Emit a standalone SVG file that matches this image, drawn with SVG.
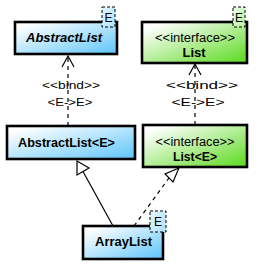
<svg xmlns="http://www.w3.org/2000/svg" width="256" height="264" viewBox="0 0 256 264">
<defs>
<linearGradient id="gb" x1="0" y1="0" x2="1" y2="1">
<stop offset="0.1" stop-color="#ffffff"/>
<stop offset="1" stop-color="#5cc4fb"/>
</linearGradient>
<linearGradient id="gg" x1="0" y1="0" x2="1" y2="1">
<stop offset="0.1" stop-color="#ffffff"/>
<stop offset="1" stop-color="#5ad91c"/>
</linearGradient>
<linearGradient id="tb" x1="0" y1="0" x2="1" y2="1">
<stop offset="0" stop-color="#e6f7ff"/>
<stop offset="1" stop-color="#a8e0fb"/>
</linearGradient>
<linearGradient id="tg" x1="0" y1="0" x2="1" y2="1">
<stop offset="0" stop-color="#eeffe6"/>
<stop offset="1" stop-color="#b4ef98"/>
</linearGradient>
</defs>
<style>
.box{stroke:#000;stroke-width:2.6}
.blue{fill:url(#gb)}
.green{fill:url(#gg)}
.tag{stroke:#000;stroke-width:1;stroke-dasharray:3,2}
.t{font-family:"Liberation Sans",Arial,sans-serif;fill:#000;text-anchor:middle}
.name{font-size:13px;font-weight:bold}
.st{font-size:11px}
.it{font-size:12px}
.tg{font-size:12px}
.ln{fill:none;stroke:#000;stroke-width:1.2}
.dash{stroke-dasharray:4,4}
.head{fill:#fff;stroke:#000;stroke-width:1.2}
</style>
<g id="connectors">
<line class="ln dash" x1="68" y1="126" x2="68" y2="56"/>
<polyline class="ln" points="62,67 68,56 74,67"/>
<text class="t st" x="71" y="89" textLength="58" lengthAdjust="spacingAndGlyphs">&lt;&lt;bind&gt;&gt;</text>
<text class="t st" x="70" y="106" textLength="45" lengthAdjust="spacingAndGlyphs">&lt;E-&gt;E&gt;</text>
<line class="ln dash" x1="195" y1="125" x2="195" y2="64"/>
<polyline class="ln" points="189,75 195,64 201,75"/>
<text class="t st" x="202" y="89" textLength="72" lengthAdjust="spacingAndGlyphs">&lt;&lt;bind&gt;&gt;</text>
<text class="t st" x="198" y="106" textLength="53" lengthAdjust="spacingAndGlyphs">&lt;E-&gt;E&gt;</text>
<line class="ln" x1="113" y1="226" x2="83" y2="171.5"/>
<polygon class="head" points="77,161 77,175 89,168"/>
<line class="ln dash" x1="134" y1="226" x2="169" y2="178"/>
<polygon class="head" points="179,168 165,174 173,182"/>
</g>
<g id="AbstractList">
<rect class="box blue" x="15" y="22" width="102" height="32"/>
<text class="t name" x="64" y="42" font-style="italic" textLength="76" lengthAdjust="spacingAndGlyphs">AbstractList</text>
<rect class="tag" fill="url(#tb)" x="102" y="7" width="13" height="20"/>
<text class="t tg" x="108.5" y="22">E</text>
</g>
<g id="List">
<rect class="box green" x="142" y="22" width="105" height="41"/>
<text class="t it" x="195" y="42" textLength="80" lengthAdjust="spacingAndGlyphs">&lt;&lt;interface&gt;&gt;</text>
<text class="t name" x="194" y="57">List</text>
<rect class="tag" fill="url(#tg)" x="233" y="7" width="12" height="20"/>
<text class="t tg" x="239" y="22">E</text>
</g>
<g id="AbstractListE">
<rect class="box blue" x="7" y="126" width="128" height="33"/>
<text class="t name" x="66.5" y="147" textLength="97" lengthAdjust="spacingAndGlyphs">AbstractList&lt;E&gt;</text>
</g>
<g id="ListE">
<rect class="box green" x="143" y="125" width="104" height="42"/>
<text class="t it" x="195" y="146" textLength="79" lengthAdjust="spacingAndGlyphs">&lt;&lt;interface&gt;&gt;</text>
<text class="t name" x="195" y="161" textLength="44" lengthAdjust="spacingAndGlyphs">List&lt;E&gt;</text>
</g>
<g id="ArrayList">
<rect class="box blue" x="83" y="226" width="80" height="33"/>
<text class="t name" x="123.5" y="246" textLength="57" lengthAdjust="spacingAndGlyphs">ArrayList</text>
<rect class="tag" fill="url(#tb)" x="150" y="211" width="16" height="21"/>
<text class="t tg" x="158" y="226">E</text>
</g>
</svg>
